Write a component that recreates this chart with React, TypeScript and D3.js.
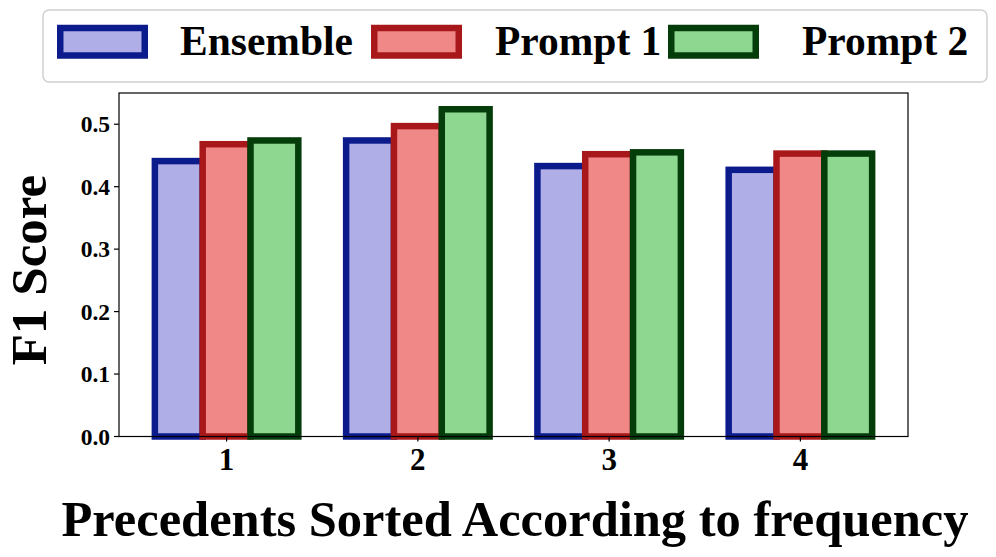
import React from "react";
import * as d3 from "d3";

const categories = ["1", "2", "3", "4"];
const seriesNames = ["Ensemble", "Prompt 1", "Prompt 2"];
const ensemble = [0.441, 0.474, 0.433, 0.427];
const prompt1 = [0.468, 0.497, 0.452, 0.453];
const prompt2 = [0.474, 0.524, 0.455, 0.453];
const yTicks = [0.0, 0.1, 0.2, 0.3, 0.4, 0.5];

const fills = ["#b0aee6", "#f08888", "#8ed791"];
const edges = ["#0b1b8c", "#a8181a", "#053d0a"];

export default function App() {
  const W = 996, H = 557;
  const left = 119, right = 908, top = 93, bottom = 436.5;
  const series = [ensemble, prompt1, prompt2];
  const x = d3.scaleLinear().domain([-0.5625, categories.length - 1 + 0.5625]).range([left, right]);
  const y = d3.scaleLinear().domain([0, 0.55]).range([bottom, top]);
  const bw = 0.25;
  const font = "'Liberation Serif', 'Times New Roman', serif";
  const legendItems = [
    { px: 57, tx: 180 },
    { px: 371, tx: 495 },
    { px: 668, tx: 802 },
  ];
  return (
    <svg width={W} height={H} style={{ position: "absolute", left: 0, top: 0 }} fontFamily={font} fontWeight="bold">
      <rect x={0} y={0} width={W} height={H} fill="#fff" />
      {series.map((vals, si) =>
        vals.map((v, ci) => {
          const x0 = x(ci - 0.375 + si * bw);
          const x1 = x(ci - 0.375 + (si + 1) * bw);
          return (
            <rect key={`${si}-${ci}`} x={x0} y={y(v)} width={x1 - x0} height={y(0) - y(v)}
              fill={fills[si]} stroke={edges[si]} strokeWidth={6.5} />
          );
        })
      )}
      <rect x={left} y={top} width={right - left} height={bottom - top} fill="none" stroke="#000" strokeWidth={1.2} />
      {yTicks.map((t) => (
        <g key={t}>
          <line x1={left - 5} x2={left} y1={y(t)} y2={y(t)} stroke="#000" strokeWidth={1.2} />
          <text x={left - 9} y={y(t)} dy="0.35em" textAnchor="end" fontSize={23.5}>{t.toFixed(1)}</text>
        </g>
      ))}
      {categories.map((c, i) => (
        <g key={c}>
          <line x1={x(i)} x2={x(i)} y1={bottom} y2={bottom + 5} stroke="#000" strokeWidth={1.2} />
          <text x={x(i)} y={470} textAnchor="middle" fontSize={31}>{c}</text>
        </g>
      ))}
      <text x={515} y={536} textAnchor="middle" fontSize={50.5}>Precedents Sorted According to frequency</text>
      <text transform={`translate(46,270) rotate(-90)`} textAnchor="middle" fontSize={51}>F1 Score</text>
      <rect x={43} y={10} width={944} height={72} rx={6} fill="#fff" stroke="#d0d0d0" strokeWidth={1.5} />
      {legendItems.map((it, i) => (
        <g key={i}>
          <rect x={it.px + 3.25} y={28} width={91 - 6.5} height={34 - 6.5} fill={fills[i]} stroke={edges[i]} strokeWidth={6.5} />
          <text x={it.tx} y={55} fontSize={41.5}>{seriesNames[i]}</text>
        </g>
      ))}
    </svg>
  );
}
